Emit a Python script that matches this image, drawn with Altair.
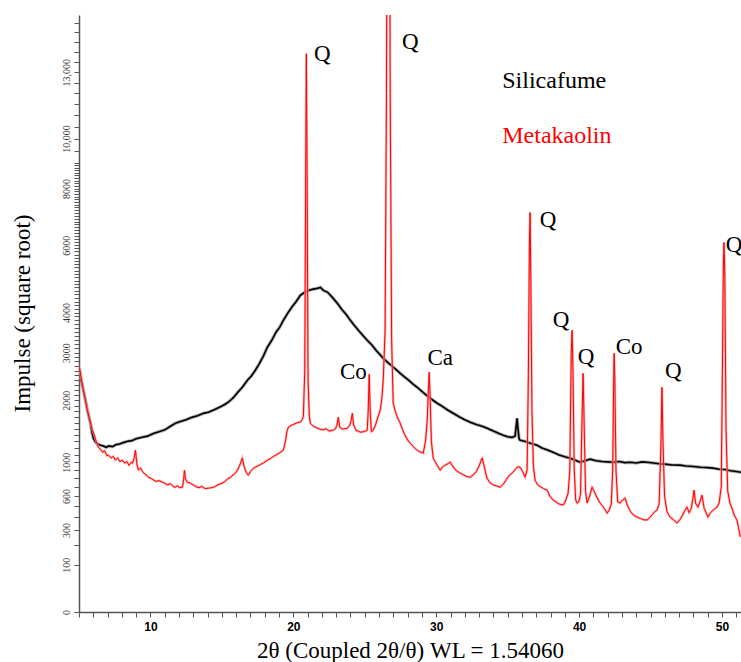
import altair as alt
import pandas as pd

# ---------------- data ----------------
red_2theta = [5.00, 5.15, 5.30, 5.45, 5.60, 5.75, 5.94, 6.10, 6.20, 6.36, 6.50, 6.65, 6.80, 6.95, 7.06,
              7.25, 7.40, 7.55, 7.70, 7.85, 8.04, 8.20, 8.35, 8.50, 8.65, 8.74, 8.85, 8.95, 9.05, 9.15,
              9.30, 9.45, 9.60, 9.75, 9.86, 10.00, 10.20, 10.40, 10.60, 10.84, 11.00, 11.20, 11.40, 11.60,
              11.75, 11.90, 12.05, 12.24, 12.32, 12.38, 12.45, 12.60, 12.80, 13.00, 13.20, 13.40, 13.60,
              13.80, 14.06, 14.30, 14.50, 14.70, 15.03, 15.20, 15.40, 15.60, 15.80, 15.94, 16.10, 16.25,
              16.43, 16.55, 16.70, 16.85, 17.00, 17.20, 17.34, 17.50, 17.70, 17.90, 18.18, 18.40, 18.60,
              18.80, 19.05, 19.30, 19.45, 19.55, 19.65, 19.90, 20.10, 20.30, 20.49, 20.62, 20.70, 20.80,
              20.87, 20.91, 20.96, 21.03, 21.12, 21.19, 21.40, 21.68, 21.90, 22.10, 22.30, 22.50, 22.80,
              22.95, 23.05, 23.15, 23.25, 23.45, 23.60, 23.78, 23.95, 24.05, 24.13, 24.22, 24.40, 24.55,
              24.69, 24.90, 25.05, 25.17, 25.24, 25.31, 25.38, 25.46, 25.59, 25.75, 25.90, 26.08, 26.20,
              26.29, 26.42, 26.52, 26.60, 26.70, 26.78, 26.88, 26.99, 27.15, 27.30, 27.48, 27.65, 27.80,
              28.00, 28.18, 28.40, 28.60, 28.80, 29.09, 29.25, 29.37, 29.45, 29.51, 29.58, 29.66, 29.79,
              29.95, 30.10, 30.28, 30.45, 30.60, 30.80, 30.98, 31.15, 31.35, 31.50, 31.68, 31.90, 32.10,
              32.38, 32.60, 32.80, 33.00, 33.15, 33.22, 33.35, 33.55, 33.78, 34.00, 34.20, 34.48, 34.70,
              34.90, 35.10, 35.31, 35.50, 35.70, 35.87, 36.05, 36.22, 36.36, 36.45, 36.52, 36.57, 36.62,
              36.70, 36.80, 36.92, 37.10, 37.30, 37.50, 37.76, 37.95, 38.18, 38.40, 38.60, 38.88, 39.05,
              39.23, 39.35, 39.45, 39.51, 39.57, 39.66, 39.76, 39.86, 39.98, 40.10, 40.20, 40.28, 40.36,
              40.45, 40.56, 40.70, 40.91, 41.05, 41.20, 41.47, 41.65, 41.80, 41.96, 42.10, 42.25, 42.35,
              42.42, 42.45, 42.50, 42.58, 42.70, 42.87, 43.05, 43.22, 43.40, 43.60, 43.80, 44.06, 44.30,
              44.50, 44.76, 44.95, 45.10, 45.30, 45.45, 45.60, 45.72, 45.80, 45.87, 45.98, 46.15, 46.36,
              46.60, 46.85, 47.05, 47.25, 47.40, 47.55, 47.70, 47.85, 47.95, 48.04, 48.15, 48.32, 48.45,
              48.60, 48.75, 49.02, 49.20, 49.45, 49.65, 49.80, 49.95, 50.04, 50.10, 50.14, 50.20, 50.28,
              50.40, 50.56, 50.70, 50.85, 51.05, 51.15, 51.26, 51.33]
red_counts = [2700, 2450, 2200, 2000, 1800, 1640, 1474, 1380, 1300, 1212, 1180, 1140, 1160, 1090, 1097,
              1060, 1080, 1030, 1060, 1010, 1028, 990, 1010, 960, 1000, 988, 1050, 1168, 980, 900,
              923, 880, 850, 830, 811, 800, 780, 760, 770, 752, 740, 720, 735, 700,
              695, 710, 690, 695, 780, 897, 790, 750, 741, 720, 700, 690, 705,
              680, 684, 690, 700, 720, 741, 760, 790, 810, 840, 860, 900, 960,
              1056, 950, 870, 835, 880, 920, 936, 950, 970, 990, 1028, 1050, 1080,
              1100, 1130, 1168, 1300, 1450, 1523, 1560, 1580, 1600, 1607, 1650, 1700, 2600,
              9000, 13900, 9000, 2400, 1700, 1590, 1540, 1507, 1490, 1480, 1500, 1460, 1474,
              1500, 1560, 1692, 1520, 1490, 1500, 1507, 1560, 1640, 1763, 1560, 1470, 1460,
              1442, 1450, 1460, 1474, 1800, 2521, 1800, 1450, 1474, 1560, 1680, 1816, 2050,
              2396, 3500, 12000, 40000, 40000, 12000, 3300, 1944, 1780, 1680, 1590, 1480, 1400,
              1320, 1271, 1220, 1180, 1150, 1125, 1300, 1640, 2200, 2564, 2000, 1300, 1056,
              1000, 950, 897, 940, 960, 980, 1001, 950, 900, 880, 860, 840, 820,
              811, 840, 880, 950, 1030, 1056, 950, 800, 741, 720, 710, 695, 730,
              780, 830, 860, 900, 940, 936, 880, 811, 900, 2500, 6000, 7120, 5000,
              1800, 950, 775, 720, 700, 680, 662, 600, 558, 540, 520, 510, 550,
              630, 900, 3000, 3540, 2600, 900, 560, 529, 540, 620, 1600, 2540, 1500,
              650, 529, 580, 695, 650, 600, 529, 500, 470, 436, 460, 520, 900,
              2400, 2985, 2400, 900, 540, 529, 560, 578, 500, 450, 420, 402, 390,
              380, 377, 400, 420, 450, 463, 520, 1200, 2253, 1300, 600, 450, 402,
              380, 353, 380, 420, 460, 491, 440, 480, 560, 662, 530, 491, 540,
              609, 480, 402, 440, 470, 491, 530, 700, 3000, 5500, 6093, 5000, 1500,
              650, 529, 480, 420, 377, 320, 264, 250]

black_2theta = [5.03, 5.15, 5.30, 5.45, 5.60, 5.80, 5.90, 6.01, 6.15, 6.30, 6.50, 6.70, 6.90, 7.10, 7.34,
                7.60, 7.85, 8.10, 8.40, 8.70, 9.00, 9.44, 9.80, 10.20, 10.60, 11.00, 11.40, 11.75, 12.10,
                12.50, 12.90, 13.30, 13.70, 14.06, 14.50, 14.90, 15.20, 15.45, 15.80, 16.10, 16.43, 16.80,
                17.05, 17.34, 17.60, 17.90, 18.18, 18.50, 18.80, 19.05, 19.30, 19.60, 19.90, 20.20, 20.49,
                20.80, 21.10, 21.40, 21.68, 21.90, 22.10, 22.40, 22.70, 23.08, 23.40, 23.70, 23.99, 24.30,
                24.60, 24.90, 25.17, 25.50, 25.80, 26.05, 26.29, 26.60, 26.90, 27.20, 27.48, 27.80, 28.10,
                28.40, 28.67, 29.00, 29.30, 29.58, 30.07, 30.40, 30.80, 31.19, 31.60, 32.00, 32.38, 32.80,
                33.20, 33.57, 34.00, 34.40, 34.69, 35.00, 35.30, 35.52, 35.60, 35.66, 35.72, 35.80, 35.87,
                36.20, 36.60, 37.06, 37.40, 37.80, 38.18, 38.60, 39.00, 39.37, 39.70, 40.07, 40.40, 40.77,
                41.20, 41.60, 42.00, 42.38, 42.80, 43.20, 43.60, 44.00, 44.40, 44.76, 45.20, 45.60, 46.00,
                46.50, 47.06, 47.50, 48.00, 48.50, 49.00, 49.37, 49.80, 50.20, 50.60, 51.00, 51.33]
black_counts = [2650, 2400, 2200, 2000, 1800, 1590, 1450, 1348, 1290, 1260, 1241, 1230, 1210, 1230, 1220,
                1250, 1260, 1280, 1300, 1310, 1340, 1363, 1380, 1420, 1450, 1480, 1540, 1590, 1620,
                1650, 1690, 1720, 1760, 1780, 1830, 1880, 1920, 1963, 2050, 2150, 2253, 2400,
                2480, 2607, 2740, 2920, 3126, 3300, 3500, 3620, 3795, 3980, 4150, 4300, 4473,
                4560, 4620, 4650, 4672, 4700, 4615, 4560, 4430, 4250, 4080, 3950, 3795, 3650,
                3520, 3400, 3293, 3180, 3050, 2960, 2872, 2780, 2700, 2620, 2542, 2460, 2390,
                2310, 2253, 2170, 2100, 2038, 1944, 1890, 1820, 1763, 1700, 1650, 1607, 1570,
                1540, 1507, 1460, 1420, 1394, 1370, 1360, 1380, 1550, 1675, 1500, 1340, 1317,
                1300, 1270, 1241, 1200, 1170, 1139, 1100, 1075, 1056, 1030, 1001, 1020, 1042,
                1020, 1010, 1005, 1001, 1010, 995, 1000, 990, 1005, 1001, 990, 980, 975,
                965, 962, 950, 945, 935, 930, 923, 910, 905, 890, 880, 872]

y_major_ticks = [0, 100, 300, 600, 1000, 2000, 3000, 4000, 6000, 8000, 10000, 13000]
x_major_ticks = [10, 20, 30, 40, 50]

peak_labels = ["Q", "Q", "Co", "Ca", "Q", "Q", "Q", "Co", "Q", "Q"]
peak_label_x = [22.03, 28.18, 24.20, 30.28, 37.83, 38.74, 40.49, 43.50, 46.60, 50.84]
peak_label_y = [13900, 14512, 2564, 2871, 6839, 3795, 2894, 3126, 2585, 5995]

legend_names = ["Silicafume", "Metakaolin"]
legend_colors = ["#000000", "#ff0000"]
legend_x = [34.62, 34.62]
legend_y = [12597, 10127]

# ---------------- tables ----------------
red_df = pd.DataFrame({"t": red_2theta, "c": red_counts})
black_df = pd.DataFrame({"t": black_2theta, "c": black_counts})
peaks_df = pd.DataFrame({"t": peak_label_x, "c": peak_label_y, "lab": peak_labels})
leg_df = pd.DataFrame({"t": legend_x, "c": legend_y, "lab": legend_names, "col": legend_colors})

# all tick positions (major ones get labels)
y_all_ticks = sorted(set(y_major_ticks + list(range(100, 9001, 100)) + list(range(9500, 15900, 500))))
x_all_ticks = list(range(5, 52))

SERIF = "Liberation Serif"
AX_COLOR = "#555555"
PLOT_H = 597

ymaj = "[" + ",".join(str(v) for v in y_major_ticks) + "]"
xmaj = "[" + ",".join(str(v) for v in x_major_ticks) + "]"

x_scale = alt.Scale(domain=[5, 51.33], nice=False, zero=False)
y_scale = alt.Scale(type="sqrt", domain=[0, 15900], nice=False, zero=True)

x_axis = alt.Axis(
    title="2θ (Coupled 2θ/θ) WL = 1.54060",
    values=x_all_ticks, tickSize=5,
    labelExpr=f"indexof({xmaj}, datum.value) >= 0 ? format(datum.value, 'd') : ''",
    labelFont="Liberation Sans", labelFontWeight="bold", labelFontSize=12, labelColor="#000000",
    labelPadding=4, labelOverlap=False, labelFlush=False, labelBound=False,
    titleFont=SERIF, titleFontSize=23, titleFontWeight="normal", titleColor="#000000",
    titleY=45, titleBaseline="alphabetic",
    domainColor=AX_COLOR, domainWidth=1.5, tickColor=AX_COLOR, tickWidth=1, grid=False,
)

y_axis = alt.Axis(
    title="Impulse (square root)",
    values=y_all_ticks, tickSize=5,
    labelExpr=(f"indexof({ymaj}, datum.value) >= 0 ? "
               "(datum.value >= 10000 ? format(datum.value, ',') : format(datum.value, 'd')) : ''"),
    labelAngle=270, labelAlign="center", labelBaseline="bottom",
    labelFont=SERIF, labelFontSize=10, labelColor="#333333", labelPadding=3,
    labelOverlap=False, labelFlush=False, labelBound=False,
    titleFont=SERIF, titleFontSize=23, titleFontWeight="normal", titleColor="#000000",
    titleAngle=270, titleX=-57, titleY=298, titleAlign="center", titleBaseline="middle",
    domainColor=AX_COLOR, domainWidth=1.5, tickColor=AX_COLOR, tickWidth=1, grid=False,
)

enc_x = alt.X("t:Q", scale=x_scale, axis=x_axis)
enc_y = alt.Y("c:Q", scale=y_scale, axis=y_axis)

black_halo = alt.Chart(black_df).mark_line(color="#8c8c8c", strokeWidth=3.4, opacity=0.7, clip=True).encode(
    x=enc_x, y=enc_y, order="t:Q")
black_line = alt.Chart(black_df).mark_line(color="#000000", strokeWidth=1.6, clip=True).encode(
    x=enc_x, y=enc_y, order="t:Q")

red_halo = alt.Chart(red_df).mark_line(color="#ff9a9a", strokeWidth=2.4, opacity=0.8, clip=True).encode(
    x=enc_x, y=enc_y, order="t:Q")
red_line = alt.Chart(red_df).mark_line(color="#ff0000", strokeWidth=1.0, clip=True).encode(
    x=enc_x, y=enc_y, order="t:Q")

peak_text = alt.Chart(peaks_df).mark_text(
    font=SERIF, fontSize=23, color="#000000", align="center", baseline="middle", clip=True
).encode(x=enc_x, y=enc_y, text="lab:N")

legend_text = alt.Chart(leg_df).mark_text(
    font=SERIF, fontSize=24, align="left", baseline="middle"
).encode(x=enc_x, y=enc_y, text="lab:N", color=alt.Color("col:N", scale=None))

chart = alt.layer(
    black_halo, black_line, red_halo, red_line, peak_text, legend_text
).properties(
    width=662,
    height=PLOT_H,
    padding={"left": 79, "top": 15, "right": 0, "bottom": 50},
    autosize=alt.AutoSizeParams(type="none"),
    background="#ffffff",
).configure_view(strokeWidth=0)

chart.save("out.html", embed_options={"renderer": "svg", "actions": False})
